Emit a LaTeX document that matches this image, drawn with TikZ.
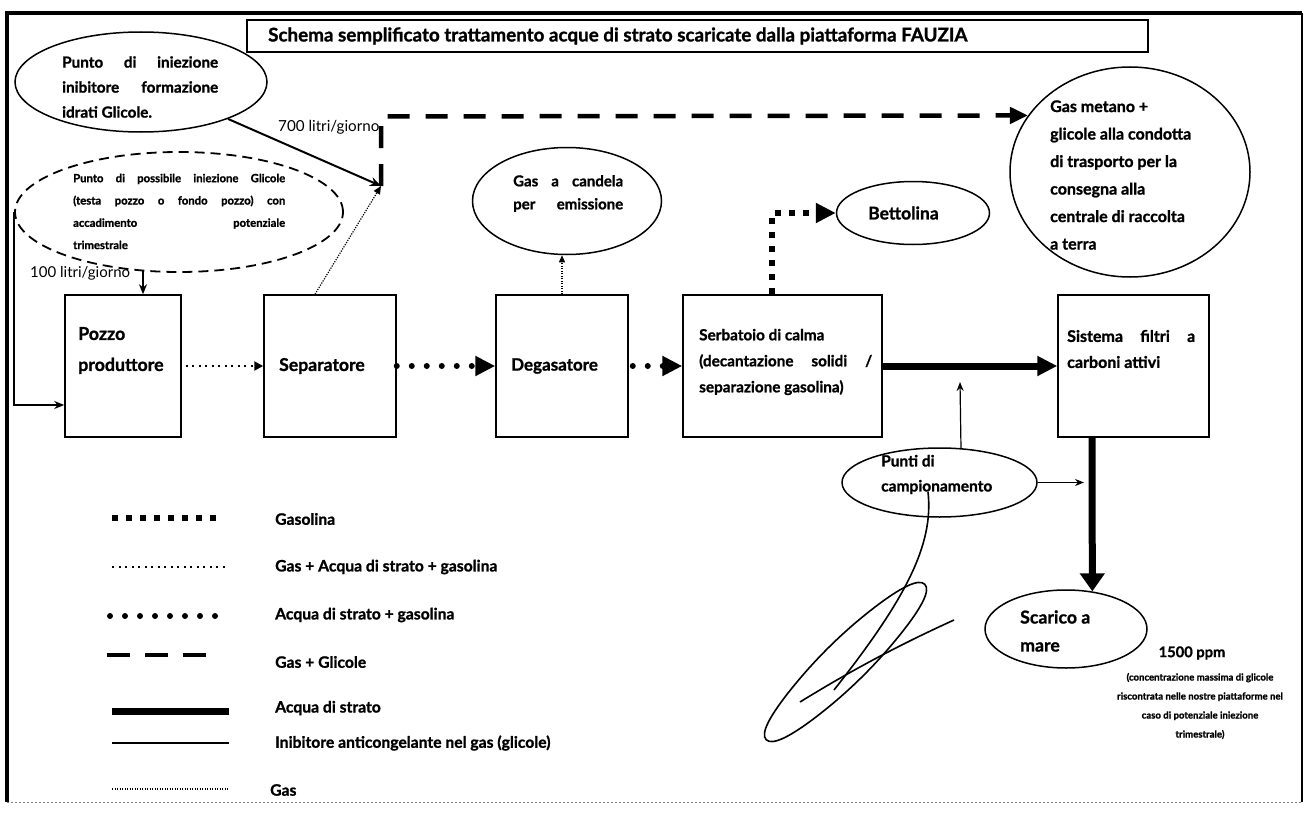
\documentclass[tikz,border=0pt]{standalone}
\usepackage{fontspec}
\setmainfont{Lato}[BoldFeatures={FakeBold=1.2}]
\usetikzlibrary{shapes.geometric,arrows.meta,calc}
\newcommand{\myfs}[2]{\fontsize{#1}{#2}\selectfont\bfseries}
\newcommand{\myrs}[2]{\fontsize{#1}{#2}\selectfont}
\begin{document}
\begin{tikzpicture}[x=1pt,y=-1pt,
  boxn/.style={draw,line width=1.5pt,inner sep=0pt},
  ell/.style={draw,ellipse,line width=1.5pt,inner sep=0pt},
  txt/.style={inner sep=0pt,anchor=west,align=left},
  bigtip/.style={-{Triangle[length=20pt,width=19pt]}},
  lgasolina/.style={line width=6pt,dash pattern=on 6pt off 8pt},
  lgasacq/.style={line width=2pt,dash pattern=on 2pt off 4.5pt},
  lacqgas/.style={line width=6pt,line cap=round,dash pattern=on 0pt off 15pt},
  lglic/.style={line width=4.5pt,dash pattern=on 22pt off 16pt},
  lacqua/.style={line width=7pt},
  linib/.style={line width=2pt},
  lgas/.style={line width=1.2pt,dash pattern=on 1.2pt off 1.3pt},
  sig/.style={line width=1.6pt}
]
\useasboundingbox (0,0) rectangle (1307,816);
% frame
\draw[line width=4pt] (7,802) -- (7,13) -- (1302,13);
\draw[line width=2.5pt] (1302,13) -- (1302,802);
\draw[line width=0.8pt,dash pattern=on 2pt off 2pt,gray] (7,802) -- (1302,802);

% title
\node[draw,line width=1.5pt,inner sep=0pt,minimum width=901pt,minimum height=32pt] (titlebox) at (697.5,36) {};
\node[txt,font=\myfs{18.8}{22}] (title) at (268,36) {Schema semplificato trattamento acque di strato scaricate dalla piattaforma FAUZIA};

% ellipses
\node[ell,minimum width=252pt,minimum height=100pt] (inib) at (141,82) {};
\node[txt,font=\myfs{15.3}{25}] (inibT) at (62,87) {\makebox[156pt][s]{Punto di iniezione}\\\makebox[156pt][s]{inibitore formazione}\\idrati Glicole.};

\node[draw,ellipse,line width=1.8pt,dash pattern=on 10pt off 6pt,inner sep=0pt,minimum width=328pt,minimum height=120pt] (poss) at (179,212) {};
\node[txt,font=\myfs{11.3}{22.3}] (possT) at (73,211.5) {\makebox[212pt][s]{Punto di possibile iniezione Glicole}\\\makebox[212pt][s]{(testa pozzo o fondo pozzo) con}\\\makebox[212pt][s]{accadimento potenziale}\\trimestrale};

\node[ell,minimum width=189pt,minimum height=107pt] (cand) at (567,201) {};
\node[txt,font=\myfs{15}{23}] (candT) at (513,193.5) {\makebox[110pt][s]{Gas a candela}\\\makebox[110pt][s]{per emissione}};

\node[ell,minimum width=153pt,minimum height=63pt] (bett) at (913,213) {};
\node[txt,font=\myfs{17.5}{20}] (bettT) at (868,213) {Bettolina};

\node[ell,minimum width=240pt,minimum height=210pt] (metano) at (1130,172) {};
\node[txt,font=\myfs{16}{27.5}] (metanoT) at (1050,175) {Gas metano +\\glicole alla condotta\\di trasporto per la\\consegna alla\\centrale di raccolta\\a terra};

\node[ell,minimum width=195pt,minimum height=69pt] (punti) at (939.5,482.5) {};
\node[txt,font=\myfs{15.5}{25}] (puntiT) at (881,474.5) {Punti di\\campionamento};

\node[ell,minimum width=162pt,minimum height=78pt] (scarico) at (1066,629) {};
\node[txt,font=\myfs{17.7}{28}] (scaricoT) at (1020,631) {Scarico a\\mare};

\node[inner sep=0pt,font=\myfs{14.7}{16}] (ppm) at (1192,653) {1500 ppm};
\node[inner sep=0pt,align=center,font=\myfs{9.6}{19}] (ppmT) at (1200,706) {(concentrazione massima di glicole\\riscontrata nelle nostre piattaforme nel\\caso di potenziale iniezione\\trimestrale)};

% boxes
\node[boxn,minimum width=116pt,minimum height=142pt] (pozzo) at (123,366) {};
\node[txt,font=\myfs{17.8}{31}] (pozzoT) at (78,350.5) {Pozzo\\produttore};
\node[boxn,minimum width=132pt,minimum height=142pt] (sep) at (330,366) {};
\node[txt,font=\myfs{17.6}{20}] (sepT) at (279,366) {Separatore};
\node[boxn,minimum width=132pt,minimum height=142pt] (degas) at (562,366) {};
\node[txt,font=\myfs{17}{20}] (degasT) at (511,366) {Degasatore};
\node[boxn,minimum width=199pt,minimum height=142pt] (serb) at (782.5,366) {};
\node[txt,font=\myfs{15.3}{26}] (serbT) at (699,362) {Serbatoio di calma\\\makebox[173pt][s]{(decantazione solidi /}\\separazione gasolina)};
\node[boxn,minimum width=151pt,minimum height=142pt] (sist) at (1133.5,366) {};
\node[txt,font=\myfs{16}{26}] (sistT) at (1067,349) {\makebox[128pt][s]{Sistema filtri a}\\carboni attivi};

% labels
\node[txt,font=\myrs{15.2}{16}] (l700) at (278,127) {700 litri/giorno};
\node[txt,font=\myrs{15}{16}] (l100) at (30,273) {100 litri/giorno};

% junction coordinates
\coordinate (J) at (381,186);
\coordinate (gtop) at (381,116.5);
\coordinate (c100) at (143,271);
\coordinate (pup) at (960,382);
\coordinate (pr) at (1084,482.5);

% connectors
\draw[lgasacq,-{Triangle[length=9pt,width=9pt]}] ([xshift=4pt]pozzo.east) -- (sep.west);
\draw[lacqgas,bigtip] (sep.east) -- (degas.west);
\draw[lacqgas,bigtip] ([xshift=4pt]degas.east) -- (serb.west);
\draw[lacqua,bigtip] (serb.east) -- (sist.west);
\draw[lacqua,-{Triangle[length=18pt,width=24pt]}] ([xshift=-41.5pt]sist.south) -- (scarico.55);
\draw[lgasolina,bigtip] ([xshift=-10.5pt]serb.north) |- (bett.west);
\draw[lgas,-{Triangle[length=7pt,width=6pt]}] (degas.north) -- (degas.north |- cand.south);
\draw[lgas,-{Triangle[length=8pt,width=7pt]}] ([xshift=-15pt]sep.north) -- (J);
\draw[linib,-{Stealth[length=11pt,width=9pt]}] (inib.-23) -- (J);
\draw[lglic,-{Triangle[length=18pt,width=16pt]}] (J) -- (gtop) -- (metano.151.4);
\draw[linib,-{Stealth[length=10pt,width=8pt]}] (poss.west) |- ($(pozzo.west)+(0,39)$);
\draw[linib,-{Stealth[length=10pt,width=8pt]}] (c100) -- (c100 |- pozzo.north);
\draw[line width=1.2pt,-{Stealth[length=9pt,width=7pt]}] (punti.58.7) -- (pup);
\draw[line width=1.2pt,-{Stealth[length=9pt,width=7pt]}] (punti.east) -- (pr);

% signature
\draw[sig] (928,492) .. controls (934,545) and (905,600) .. (834,690);
\draw[sig] plot[smooth cycle,tension=0.8] coordinates {(924.8,584.3) (898.4,636.7) (819.2,714.5) (766.2,739.7) (792.6,687.3) (871.8,609.5)};
\draw[sig] (800,702) .. controls (860,665) and (910,640) .. (954,620);

% legend
\draw[lgasolina] (112,518) -- (223,518);
\node[txt,font=\myfs{15.7}{18}] (lg1) at (275,519) {Gasolina};
\draw[lgasacq] (112,567) -- (226,567);
\node[txt,font=\myfs{15.7}{18}] (lg2) at (275,567) {Gas + Acqua di strato + gasolina};
\draw[lacqgas] (110,616) -- (218,616);
\node[txt,font=\myfs{15.7}{18}] (lg3) at (275,615) {Acqua di strato + gasolina};
\draw[lglic,dash pattern=on 23pt off 15pt] (107,655) -- (207,655);
\node[txt,font=\myfs{15.7}{18}] (lg4) at (275,662) {Gas + Glicole};
\draw[lacqua] (112,711) -- (229,711);
\node[txt,font=\myfs{15.7}{18}] (lg5) at (275,708) {Acqua di strato};
\draw[linib] (112,743) -- (229,743);
\node[txt,font=\myfs{15.7}{18}] (lg6) at (275,743) {Inibitore anticongelante nel gas (glicole)};
\draw[lgas] (112,789) -- (229,789);
\node[txt,font=\myfs{15.7}{18}] (lg7) at (270,790) {Gas};
\end{tikzpicture}
\end{document}
